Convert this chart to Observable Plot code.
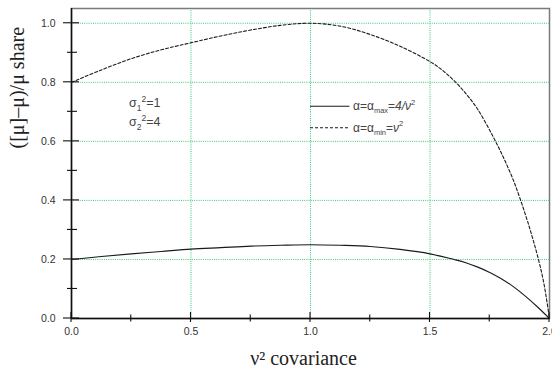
<!DOCTYPE html>
<html>
<head>
<meta charset="utf-8">
<script src="https://cdn.jsdelivr.net/npm/d3@7"></script>
<script src="https://cdn.jsdelivr.net/npm/@observablehq/plot@0.6"></script>
<style>
  html, body { margin: 0; padding: 0; background: #fff; }
</style>
</head>
<body>
<div id="chart"></div>
<script>
// ---- data ----
const xTicks = [0, 0.5, 1.0, 1.5, 2.0];
const xMinorTicks = [0.25, 0.75, 1.25, 1.75];
const yTicks = [0, 0.2, 0.4, 0.6, 0.8, 1.0];
const yMinorTicks = [0.1, 0.3, 0.5, 0.7, 0.9];
const xGrid = [0.5, 1.0, 1.5];
const yGrid = [0.2, 0.4, 0.6, 0.8, 1.0];

// alpha = alpha_max = 4/v^2 (solid)
const solidX = [0, 0.125, 0.25, 0.375, 0.5, 0.625, 0.75, 0.875, 1.0, 1.125, 1.25, 1.375, 1.5, 1.6, 1.65, 1.7, 1.75, 1.8, 1.85, 1.9, 1.95, 2.0];
const solidY = [0.200, 0.210, 0.219, 0.227, 0.235, 0.240, 0.245, 0.248, 0.250, 0.248, 0.244, 0.234, 0.219, 0.200, 0.189, 0.174, 0.156, 0.134, 0.107, 0.075, 0.039, 0.0];

// alpha = alpha_min = v^2 (dashed)
const dashX = [0, 0.125, 0.25, 0.375, 0.5, 0.625, 0.75, 0.875, 1.0, 1.125, 1.25, 1.375, 1.5, 1.55, 1.6, 1.65, 1.7, 1.76, 1.8, 1.85, 1.9, 1.925, 1.95, 1.975, 2.0];
const dashY = [0.800, 0.842, 0.880, 0.910, 0.934, 0.957, 0.977, 0.993, 1.000, 0.990, 0.962, 0.922, 0.870, 0.842, 0.806, 0.762, 0.708, 0.622, 0.558, 0.466, 0.350, 0.284, 0.212, 0.125, 0.0];

const xTitle = "ν² covariance";
const yTitle = "([μ]–μ)/μ share";

const solid = solidX.map((x, i) => ({x, y: solidY[i]}));
const dashed = dashX.map((x, i) => ({x, y: dashY[i]}));

// ---- annotation layout (data coordinates) ----
const sigmaAnno = [
  {x: 0.243, y: 0.729, parts: [{t: "σ"}, {t: "1", sub: true}, {t: "2", sup: true}, {t: "=1"}]},
  {x: 0.243, y: 0.664, parts: [{t: "σ"}, {t: "2", sub: true}, {t: "2", sup: true}, {t: "=4"}]}
];
const legendItems = [
  {x1: 1.0, x2: 1.165, tx: 1.18, y: 0.719, dash: null,
   parts: [{t: "α=α"}, {t: "max", sub: true}, {t: "="}, {t: "4/ν", it: true}, {t: "2", sup: true}]},
  {x1: 1.0, x2: 1.165, tx: 1.18, y: 0.646, dash: "3,2",
   parts: [{t: "α=α"}, {t: "min", sub: true}, {t: "="}, {t: "ν", it: true}, {t: "2", sup: true}]}
];

const SANS = "'Liberation Sans', Arial, Helvetica, sans-serif";
const SERIF = "'Liberation Serif', 'Times New Roman', serif";
const GRID = "#38c878";

function richText(item, xKey, size, subSize) {
  return (index, scales) => {
    const t = d3.create("svg:text")
      .attr("x", scales.x(item[xKey]))
      .attr("y", scales.y(item.y) + size * 0.36)
      .attr("text-anchor", "start")
      .attr("font-family", SANS)
      .attr("font-size", size)
      .attr("fill", "#444");
    let off = 0;
    for (const p of item.parts) {
      const target = p.sub ? size * 0.28 : p.sup ? -size * 0.45 : 0;
      const ts = t.append("tspan").text(p.t).attr("dy", target - off);
      off = target;
      if (p.sub || p.sup) ts.attr("font-size", subSize);
      if (p.it) ts.attr("font-style", "italic");
    }
    return t.node();
  };
}

function axisTicks(index, scales) {
  const g = d3.create("svg:g").attr("stroke", "#111").attr("stroke-width", 1.1);
  const x0 = scales.x(0), y0 = scales.y(0);
  for (const v of yTicks) {
    const y = scales.y(v);
    g.append("line").attr("x1", x0 - 8).attr("x2", x0 + 8).attr("y1", y).attr("y2", y);
  }
  for (const v of yMinorTicks) {
    const y = scales.y(v);
    g.append("line").attr("x1", x0 - 4).attr("x2", x0 + 6).attr("y1", y).attr("y2", y);
  }
  for (const v of xTicks) {
    const x = scales.x(v);
    g.append("line").attr("x1", x).attr("x2", x).attr("y1", y0 - 6).attr("y2", y0 + 4);
  }
  for (const v of xMinorTicks) {
    const x = scales.x(v);
    g.append("line").attr("x1", x).attr("x2", x).attr("y1", y0 - 3.5).attr("y2", y0 + 3.5);
  }
  return g.node();
}

const marks = [
  Plot.ruleY(yGrid, {stroke: GRID, strokeWidth: 1, strokeDasharray: "1,1.2"}),
  Plot.ruleX(xGrid, {stroke: GRID, strokeWidth: 1, strokeDasharray: "1,1.2"}),
  Plot.frame({stroke: "#7a7a7a", strokeWidth: 1.5}),
  Plot.ruleX([0], {stroke: "#111", strokeWidth: 1.5}),
  Plot.ruleY([0], {stroke: "#111", strokeWidth: 1.5}),
  axisTicks,
  Plot.line(solid, {x: "x", y: "y", stroke: "#1a1a1a", strokeWidth: 1.1, curve: "catmull-rom"}),
  Plot.line(dashed, {x: "x", y: "y", stroke: "#1a1a1a", strokeWidth: 1.1, strokeDasharray: "3,2", curve: "catmull-rom"}),
  Plot.text(yTicks, {frameAnchor: "left", y: d => d, text: d => d.toFixed(1), textAnchor: "end", dx: -16,
    fontSize: 10.5, fill: "#333", fontFamily: SANS}),
  Plot.text(xTicks, {frameAnchor: "bottom", x: d => d, text: d => d.toFixed(1), dy: 16,
    fontSize: 10.5, fill: "#333", fontFamily: SANS}),
  Plot.text([yTitle], {frameAnchor: "left", text: d => d, rotate: -90, dx: -54, dy: -15,
    fontSize: 20, fill: "#222", fontFamily: SERIF}),
  Plot.text([xTitle], {frameAnchor: "bottom", text: d => d, dx: -7, dy: 46,
    fontSize: 20, fill: "#222", fontFamily: SERIF}),
  ...legendItems.map(l => Plot.ruleY([l], {y: "y", x1: "x1", x2: "x2", stroke: "#1a1a1a", strokeWidth: 1.1,
    strokeDasharray: l.dash ?? undefined})),
  ...legendItems.map(l => richText(l, "tx", 12, 7.5)),
  ...sigmaAnno.map(s => richText(s, "x", 12.5, 8.5))
];

const chart = Plot.plot({
  width: 552,
  height: 376,
  marginLeft: 71,
  marginRight: 3,
  marginTop: 8,
  marginBottom: 58,
  x: {domain: [0, 2], axis: null},
  y: {domain: [0, 1.05], axis: null},
  style: {background: "#fff", fontFamily: SANS, overflow: "hidden"},
  marks
});
document.getElementById("chart").appendChild(chart);
</script>
</body>
</html>
